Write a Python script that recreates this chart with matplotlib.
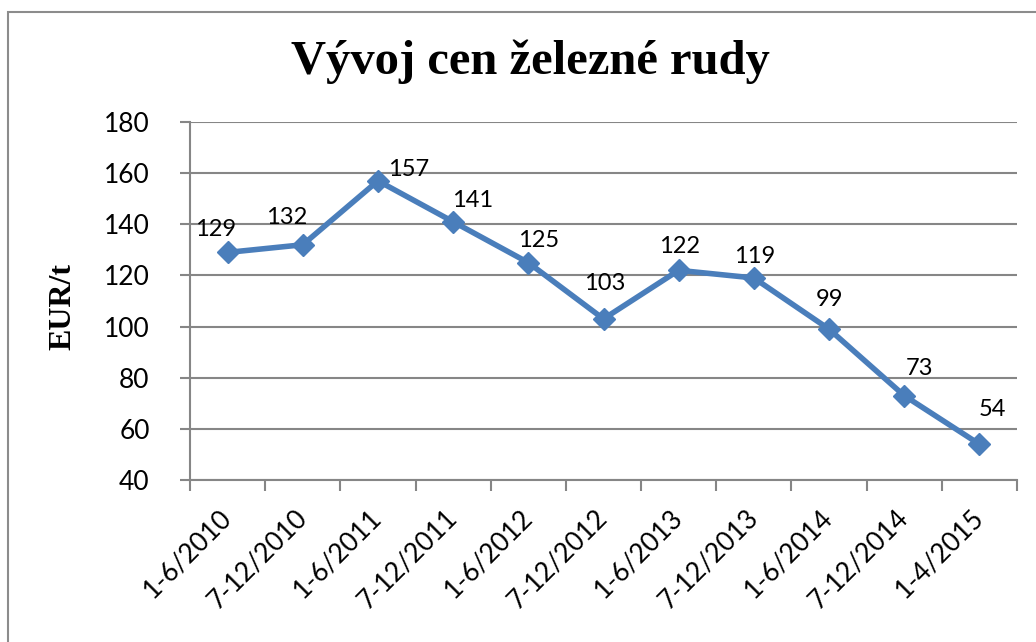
import matplotlib.pyplot as plt
from matplotlib.patches import Rectangle

# period labels and iron ore price (EUR/t)
periods = ['1-6/2010', '7-12/2010', '1-6/2011', '7-12/2011', '1-6/2012',
           '7-12/2012', '1-6/2013', '7-12/2013', '1-6/2014', '7-12/2014',
           '1-4/2015']
prices = [129, 132, 157, 141, 125, 103, 122, 119, 99, 73, 54]
y_ticks = [40, 60, 80, 100, 120, 140, 160, 180]

# where each value label sits relative to its point (pixels)
label_offsets = [(-12, 23), (-16, 27), (31, 11), (19, 21), (10, 22), (1, 35),
                 (1, 24), (1, 21), (0, 30), (15, 27), (13, 35)]

blue = '#4a7ebb'
grey = '#868686'
tick_font = ['Lato', 'DejaVu Sans']

fig = plt.figure(figsize=(10.36, 6.42), dpi=100)
W, H = 1036, 642
ax = fig.add_axes([190 / W, 1 - 480 / H, (1017 - 190) / W, (480 - 122) / H])

# outer chart frame (only left and top edges visible)
fig.patches.append(Rectangle((8 / W, -0.05), 1.2, 1 - 12 / H + 0.05,
                             transform=fig.transFigure, fill=False,
                             edgecolor='#8c8c8c', linewidth=1.5))

x = list(range(len(periods)))
ax.plot(x, prices, color=blue, linewidth=4, marker='D', markersize=11,
        zorder=3, clip_on=False)

for xi, v, (dx, dy) in zip(x, prices, label_offsets):
    ax.annotate(str(v), (xi, v), xytext=(dx, dy), textcoords='offset pixels',
                ha='center', va='center', fontsize=17, family=tick_font)

ax.set_xlim(-0.5, len(periods) - 0.5)
ax.set_ylim(40, 180)
ax.set_yticks(y_ticks)
ax.set_yticklabels([str(t) for t in y_ticks], family=tick_font, fontsize=19)
ax.yaxis.grid(True, color=grey, linewidth=1.5)
ax.set_axisbelow(True)

ax.set_xticks(x)
ax.set_xticklabels(periods, rotation=45, ha='right', va='center',
                   rotation_mode='anchor', family=tick_font, fontsize=19)
ax.set_xticks([i - 0.5 for i in range(len(periods) + 1)], minor=True)
ax.tick_params(axis='x', which='major', length=0, pad=24)
ax.tick_params(axis='x', which='minor', length=8, width=1.5, color=grey,
               direction='out')
ax.tick_params(axis='y', length=7, width=1.5, color=grey, pad=22)

for s in ['top', 'right']:
    ax.spines[s].set_visible(False)
for s in ['left', 'bottom']:
    ax.spines[s].set_color(grey)
    ax.spines[s].set_linewidth(1.5)

ax.set_ylabel('EUR/t', family='Liberation Serif', fontweight='bold',
              fontsize=23, labelpad=0)
ax.yaxis.set_label_coords(-113 / (1017 - 190), 0.485)

fig.text(530 / W, 1 - 62 / H, 'Vývoj cen železné rudy', ha='center',
         va='center', family='Liberation Serif', fontweight='bold',
         fontsize=35)

fig.savefig('out.png', dpi=100)
